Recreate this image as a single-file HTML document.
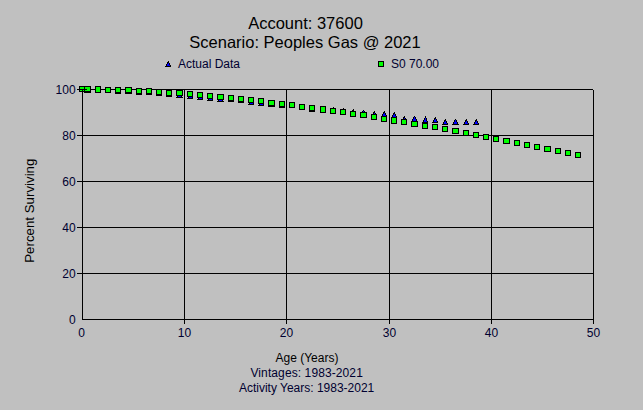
<!DOCTYPE html>
<html><head><meta charset="utf-8"><title>chart</title>
<style>
html,body{margin:0;padding:0;background:#c0c0c0;}
body{width:643px;height:410px;overflow:hidden;}
svg{display:block;}
text{font-family:"Liberation Sans",sans-serif;}
</style></head><body>
<svg width="643" height="410" viewBox="0 0 643 410">
<rect width="643" height="410" fill="#c0c0c0"/>
<g shape-rendering="crispEdges" fill="#000">
<rect x="82" y="89" width="1" height="231"/>
<rect x="184" y="89" width="1" height="235"/>
<rect x="286" y="89" width="1" height="235"/>
<rect x="389" y="89" width="1" height="235"/>
<rect x="491" y="89" width="1" height="235"/>
<rect x="593" y="90" width="1" height="234"/>
<rect x="77" y="89" width="516" height="1"/>
<rect x="77" y="135" width="517" height="1"/>
<rect x="77" y="181" width="517" height="1"/>
<rect x="77" y="227" width="517" height="1"/>
<rect x="77" y="273" width="517" height="1"/>
<rect x="82" y="319" width="512" height="1"/>
</g>
<g shape-rendering="crispEdges">
<rect x="82" y="86" width="1" height="1" fill="#000"/><rect x="81" y="87" width="3" height="2" fill="#000"/><rect x="82" y="87" width="1" height="2" fill="#0000ff"/><rect x="80" y="89" width="5" height="2" fill="#000"/><rect x="81" y="89" width="3" height="2" fill="#0000ff"/><rect x="79" y="91" width="7" height="1" fill="#000"/>
<rect x="87" y="87" width="1" height="1" fill="#000"/><rect x="86" y="88" width="3" height="2" fill="#000"/><rect x="87" y="88" width="1" height="2" fill="#0000ff"/><rect x="85" y="90" width="5" height="2" fill="#000"/><rect x="86" y="90" width="3" height="2" fill="#0000ff"/><rect x="84" y="92" width="7" height="1" fill="#000"/>
<rect x="98" y="86" width="1" height="1" fill="#000"/><rect x="97" y="87" width="2" height="1" fill="#000"/><rect x="97" y="88" width="3" height="1" fill="#000"/><rect x="98" y="88" width="1" height="1" fill="#0000ff"/><rect x="96" y="89" width="4" height="1" fill="#000"/><rect x="97" y="89" width="2" height="1" fill="#0000ff"/><rect x="96" y="90" width="5" height="1" fill="#000"/><rect x="97" y="90" width="3" height="1" fill="#0000ff"/><rect x="95" y="91" width="6" height="1" fill="#000"/>
<rect x="108" y="87" width="1" height="1" fill="#000"/><rect x="107" y="88" width="2" height="1" fill="#000"/><rect x="107" y="89" width="3" height="1" fill="#000"/><rect x="108" y="89" width="1" height="1" fill="#0000ff"/><rect x="106" y="90" width="4" height="1" fill="#000"/><rect x="107" y="90" width="2" height="1" fill="#0000ff"/><rect x="106" y="91" width="5" height="1" fill="#000"/><rect x="107" y="91" width="3" height="1" fill="#0000ff"/><rect x="105" y="92" width="6" height="1" fill="#000"/>
<rect x="118" y="88" width="1" height="1" fill="#000"/><rect x="117" y="89" width="2" height="1" fill="#000"/><rect x="117" y="90" width="3" height="1" fill="#000"/><rect x="118" y="90" width="1" height="1" fill="#0000ff"/><rect x="116" y="91" width="4" height="1" fill="#000"/><rect x="117" y="91" width="2" height="1" fill="#0000ff"/><rect x="116" y="92" width="5" height="1" fill="#000"/><rect x="117" y="92" width="3" height="1" fill="#0000ff"/><rect x="115" y="93" width="6" height="1" fill="#000"/>
<rect x="128" y="88" width="1" height="1" fill="#000"/><rect x="127" y="89" width="3" height="2" fill="#000"/><rect x="128" y="89" width="1" height="2" fill="#0000ff"/><rect x="126" y="91" width="5" height="2" fill="#000"/><rect x="127" y="91" width="3" height="2" fill="#0000ff"/><rect x="125" y="93" width="7" height="1" fill="#000"/>
<rect x="139" y="89" width="1" height="1" fill="#000"/><rect x="138" y="90" width="2" height="1" fill="#000"/><rect x="138" y="91" width="3" height="1" fill="#000"/><rect x="139" y="91" width="1" height="1" fill="#0000ff"/><rect x="137" y="92" width="4" height="1" fill="#000"/><rect x="138" y="92" width="2" height="1" fill="#0000ff"/><rect x="137" y="93" width="5" height="1" fill="#000"/><rect x="138" y="93" width="3" height="1" fill="#0000ff"/><rect x="136" y="94" width="6" height="1" fill="#000"/>
<rect x="149" y="89" width="1" height="1" fill="#000"/><rect x="148" y="90" width="2" height="1" fill="#000"/><rect x="148" y="91" width="3" height="1" fill="#000"/><rect x="149" y="91" width="1" height="1" fill="#0000ff"/><rect x="147" y="92" width="4" height="1" fill="#000"/><rect x="148" y="92" width="2" height="1" fill="#0000ff"/><rect x="147" y="93" width="5" height="1" fill="#000"/><rect x="148" y="93" width="3" height="1" fill="#0000ff"/><rect x="146" y="94" width="6" height="1" fill="#000"/>
<rect x="159" y="90" width="1" height="1" fill="#000"/><rect x="158" y="91" width="2" height="1" fill="#000"/><rect x="158" y="92" width="3" height="1" fill="#000"/><rect x="159" y="92" width="1" height="1" fill="#0000ff"/><rect x="157" y="93" width="4" height="1" fill="#000"/><rect x="158" y="93" width="2" height="1" fill="#0000ff"/><rect x="157" y="94" width="5" height="1" fill="#000"/><rect x="158" y="94" width="3" height="1" fill="#0000ff"/><rect x="156" y="95" width="6" height="1" fill="#000"/>
<rect x="169" y="91" width="1" height="1" fill="#000"/><rect x="168" y="92" width="2" height="1" fill="#000"/><rect x="168" y="93" width="3" height="1" fill="#000"/><rect x="169" y="93" width="1" height="1" fill="#0000ff"/><rect x="167" y="94" width="4" height="1" fill="#000"/><rect x="168" y="94" width="2" height="1" fill="#0000ff"/><rect x="167" y="95" width="5" height="1" fill="#000"/><rect x="168" y="95" width="3" height="1" fill="#0000ff"/><rect x="166" y="96" width="6" height="1" fill="#000"/>
<rect x="179" y="92" width="1" height="1" fill="#000"/><rect x="178" y="93" width="3" height="2" fill="#000"/><rect x="179" y="93" width="1" height="2" fill="#0000ff"/><rect x="177" y="95" width="5" height="2" fill="#000"/><rect x="178" y="95" width="3" height="2" fill="#0000ff"/><rect x="176" y="97" width="7" height="1" fill="#000"/>
<rect x="190" y="93" width="1" height="1" fill="#000"/><rect x="189" y="94" width="2" height="1" fill="#000"/><rect x="189" y="95" width="3" height="1" fill="#000"/><rect x="190" y="95" width="1" height="1" fill="#0000ff"/><rect x="188" y="96" width="4" height="1" fill="#000"/><rect x="189" y="96" width="2" height="1" fill="#0000ff"/><rect x="188" y="97" width="5" height="1" fill="#000"/><rect x="189" y="97" width="3" height="1" fill="#0000ff"/><rect x="187" y="98" width="6" height="1" fill="#000"/>
<rect x="200" y="94" width="1" height="1" fill="#000"/><rect x="199" y="95" width="2" height="1" fill="#000"/><rect x="199" y="96" width="3" height="1" fill="#000"/><rect x="200" y="96" width="1" height="1" fill="#0000ff"/><rect x="198" y="97" width="4" height="1" fill="#000"/><rect x="199" y="97" width="2" height="1" fill="#0000ff"/><rect x="198" y="98" width="5" height="1" fill="#000"/><rect x="199" y="98" width="3" height="1" fill="#0000ff"/><rect x="197" y="99" width="6" height="1" fill="#000"/>
<rect x="210" y="95" width="1" height="1" fill="#000"/><rect x="209" y="96" width="2" height="1" fill="#000"/><rect x="209" y="97" width="3" height="1" fill="#000"/><rect x="210" y="97" width="1" height="1" fill="#0000ff"/><rect x="208" y="98" width="4" height="1" fill="#000"/><rect x="209" y="98" width="2" height="1" fill="#0000ff"/><rect x="208" y="99" width="5" height="1" fill="#000"/><rect x="209" y="99" width="3" height="1" fill="#0000ff"/><rect x="207" y="100" width="6" height="1" fill="#000"/>
<rect x="220" y="96" width="1" height="1" fill="#000"/><rect x="219" y="97" width="3" height="2" fill="#000"/><rect x="220" y="97" width="1" height="2" fill="#0000ff"/><rect x="218" y="99" width="5" height="2" fill="#000"/><rect x="219" y="99" width="3" height="2" fill="#0000ff"/><rect x="217" y="101" width="7" height="1" fill="#000"/>
<rect x="231" y="96" width="1" height="1" fill="#000"/><rect x="230" y="97" width="2" height="1" fill="#000"/><rect x="230" y="98" width="3" height="1" fill="#000"/><rect x="231" y="98" width="1" height="1" fill="#0000ff"/><rect x="229" y="99" width="4" height="1" fill="#000"/><rect x="230" y="99" width="2" height="1" fill="#0000ff"/><rect x="229" y="100" width="5" height="1" fill="#000"/><rect x="230" y="100" width="3" height="1" fill="#0000ff"/><rect x="228" y="101" width="6" height="1" fill="#000"/>
<rect x="241" y="97" width="1" height="1" fill="#000"/><rect x="240" y="98" width="2" height="1" fill="#000"/><rect x="240" y="99" width="3" height="1" fill="#000"/><rect x="241" y="99" width="1" height="1" fill="#0000ff"/><rect x="239" y="100" width="4" height="1" fill="#000"/><rect x="240" y="100" width="2" height="1" fill="#0000ff"/><rect x="239" y="101" width="5" height="1" fill="#000"/><rect x="240" y="101" width="3" height="1" fill="#0000ff"/><rect x="238" y="102" width="6" height="1" fill="#000"/>
<rect x="251" y="99" width="1" height="1" fill="#000"/><rect x="250" y="100" width="2" height="1" fill="#000"/><rect x="250" y="101" width="3" height="1" fill="#000"/><rect x="251" y="101" width="1" height="1" fill="#0000ff"/><rect x="249" y="102" width="4" height="1" fill="#000"/><rect x="250" y="102" width="2" height="1" fill="#0000ff"/><rect x="249" y="103" width="5" height="1" fill="#000"/><rect x="250" y="103" width="3" height="1" fill="#0000ff"/><rect x="248" y="104" width="6" height="1" fill="#000"/>
<rect x="261" y="100" width="1" height="1" fill="#000"/><rect x="260" y="101" width="2" height="1" fill="#000"/><rect x="260" y="102" width="3" height="1" fill="#000"/><rect x="261" y="102" width="1" height="1" fill="#0000ff"/><rect x="259" y="103" width="4" height="1" fill="#000"/><rect x="260" y="103" width="2" height="1" fill="#0000ff"/><rect x="259" y="104" width="5" height="1" fill="#000"/><rect x="260" y="104" width="3" height="1" fill="#0000ff"/><rect x="258" y="105" width="6" height="1" fill="#000"/>
<rect x="271" y="101" width="1" height="1" fill="#000"/><rect x="270" y="102" width="3" height="2" fill="#000"/><rect x="271" y="102" width="1" height="2" fill="#0000ff"/><rect x="269" y="104" width="5" height="2" fill="#000"/><rect x="270" y="104" width="3" height="2" fill="#0000ff"/><rect x="268" y="106" width="7" height="1" fill="#000"/>
<rect x="282" y="102" width="1" height="1" fill="#000"/><rect x="281" y="103" width="2" height="1" fill="#000"/><rect x="281" y="104" width="3" height="1" fill="#000"/><rect x="282" y="104" width="1" height="1" fill="#0000ff"/><rect x="280" y="105" width="4" height="1" fill="#000"/><rect x="281" y="105" width="2" height="1" fill="#0000ff"/><rect x="280" y="106" width="5" height="1" fill="#000"/><rect x="281" y="106" width="3" height="1" fill="#0000ff"/><rect x="279" y="107" width="6" height="1" fill="#000"/>
<rect x="292" y="102" width="1" height="1" fill="#000"/><rect x="291" y="103" width="2" height="1" fill="#000"/><rect x="291" y="104" width="3" height="1" fill="#000"/><rect x="292" y="104" width="1" height="1" fill="#0000ff"/><rect x="290" y="105" width="4" height="1" fill="#000"/><rect x="291" y="105" width="2" height="1" fill="#0000ff"/><rect x="290" y="106" width="5" height="1" fill="#000"/><rect x="291" y="106" width="3" height="1" fill="#0000ff"/><rect x="289" y="107" width="6" height="1" fill="#000"/>
<rect x="302" y="104" width="1" height="1" fill="#000"/><rect x="301" y="105" width="2" height="1" fill="#000"/><rect x="301" y="106" width="3" height="1" fill="#000"/><rect x="302" y="106" width="1" height="1" fill="#0000ff"/><rect x="300" y="107" width="4" height="1" fill="#000"/><rect x="301" y="107" width="2" height="1" fill="#0000ff"/><rect x="300" y="108" width="5" height="1" fill="#000"/><rect x="301" y="108" width="3" height="1" fill="#0000ff"/><rect x="299" y="109" width="6" height="1" fill="#000"/>
<rect x="312" y="106" width="1" height="1" fill="#000"/><rect x="311" y="107" width="2" height="1" fill="#000"/><rect x="311" y="108" width="3" height="1" fill="#000"/><rect x="312" y="108" width="1" height="1" fill="#0000ff"/><rect x="310" y="109" width="4" height="1" fill="#000"/><rect x="311" y="109" width="2" height="1" fill="#0000ff"/><rect x="310" y="110" width="5" height="1" fill="#000"/><rect x="311" y="110" width="3" height="1" fill="#0000ff"/><rect x="309" y="111" width="6" height="1" fill="#000"/>
<rect x="323" y="106" width="1" height="1" fill="#000"/><rect x="322" y="107" width="2" height="1" fill="#000"/><rect x="322" y="108" width="3" height="1" fill="#000"/><rect x="323" y="108" width="1" height="1" fill="#0000ff"/><rect x="321" y="109" width="4" height="1" fill="#000"/><rect x="322" y="109" width="2" height="1" fill="#0000ff"/><rect x="321" y="110" width="5" height="1" fill="#000"/><rect x="322" y="110" width="3" height="1" fill="#0000ff"/><rect x="320" y="111" width="6" height="1" fill="#000"/>
<rect x="333" y="107" width="1" height="1" fill="#000"/><rect x="332" y="108" width="2" height="1" fill="#000"/><rect x="332" y="109" width="3" height="1" fill="#000"/><rect x="333" y="109" width="1" height="1" fill="#0000ff"/><rect x="331" y="110" width="4" height="1" fill="#000"/><rect x="332" y="110" width="2" height="1" fill="#0000ff"/><rect x="331" y="111" width="5" height="1" fill="#000"/><rect x="332" y="111" width="3" height="1" fill="#0000ff"/><rect x="330" y="112" width="6" height="1" fill="#000"/>
<rect x="343" y="108" width="1" height="1" fill="#000"/><rect x="342" y="109" width="2" height="1" fill="#000"/><rect x="342" y="110" width="3" height="1" fill="#000"/><rect x="343" y="110" width="1" height="1" fill="#0000ff"/><rect x="341" y="111" width="4" height="1" fill="#000"/><rect x="342" y="111" width="2" height="1" fill="#0000ff"/><rect x="341" y="112" width="5" height="1" fill="#000"/><rect x="342" y="112" width="3" height="1" fill="#0000ff"/><rect x="340" y="113" width="6" height="1" fill="#000"/>
<rect x="353" y="109" width="1" height="1" fill="#000"/><rect x="352" y="110" width="2" height="1" fill="#000"/><rect x="352" y="111" width="3" height="1" fill="#000"/><rect x="353" y="111" width="1" height="1" fill="#0000ff"/><rect x="351" y="112" width="4" height="1" fill="#000"/><rect x="352" y="112" width="2" height="1" fill="#0000ff"/><rect x="351" y="113" width="5" height="1" fill="#000"/><rect x="352" y="113" width="3" height="1" fill="#0000ff"/><rect x="350" y="114" width="6" height="1" fill="#000"/>
<rect x="363" y="110" width="1" height="1" fill="#000"/><rect x="362" y="111" width="3" height="2" fill="#000"/><rect x="363" y="111" width="1" height="2" fill="#0000ff"/><rect x="361" y="113" width="5" height="2" fill="#000"/><rect x="362" y="113" width="3" height="2" fill="#0000ff"/><rect x="360" y="115" width="7" height="1" fill="#000"/>
<rect x="374" y="111" width="1" height="1" fill="#000"/><rect x="373" y="112" width="2" height="1" fill="#000"/><rect x="373" y="113" width="3" height="1" fill="#000"/><rect x="374" y="113" width="1" height="1" fill="#0000ff"/><rect x="372" y="114" width="4" height="1" fill="#000"/><rect x="373" y="114" width="2" height="1" fill="#0000ff"/><rect x="372" y="115" width="5" height="1" fill="#000"/><rect x="373" y="115" width="3" height="1" fill="#0000ff"/><rect x="371" y="116" width="6" height="1" fill="#000"/>
<rect x="384" y="111" width="1" height="1" fill="#000"/><rect x="383" y="112" width="2" height="1" fill="#000"/><rect x="383" y="113" width="3" height="1" fill="#000"/><rect x="384" y="113" width="1" height="1" fill="#0000ff"/><rect x="382" y="114" width="4" height="1" fill="#000"/><rect x="383" y="114" width="2" height="1" fill="#0000ff"/><rect x="382" y="115" width="5" height="1" fill="#000"/><rect x="383" y="115" width="3" height="1" fill="#0000ff"/><rect x="381" y="116" width="6" height="1" fill="#000"/>
<rect x="394" y="112" width="1" height="1" fill="#000"/><rect x="393" y="113" width="2" height="1" fill="#000"/><rect x="393" y="114" width="3" height="1" fill="#000"/><rect x="394" y="114" width="1" height="1" fill="#0000ff"/><rect x="392" y="115" width="4" height="1" fill="#000"/><rect x="393" y="115" width="2" height="1" fill="#0000ff"/><rect x="392" y="116" width="5" height="1" fill="#000"/><rect x="393" y="116" width="3" height="1" fill="#0000ff"/><rect x="391" y="117" width="6" height="1" fill="#000"/>
<rect x="404" y="116" width="1" height="1" fill="#000"/><rect x="403" y="117" width="2" height="1" fill="#000"/><rect x="403" y="118" width="3" height="1" fill="#000"/><rect x="404" y="118" width="1" height="1" fill="#0000ff"/><rect x="402" y="119" width="4" height="1" fill="#000"/><rect x="403" y="119" width="2" height="1" fill="#0000ff"/><rect x="402" y="120" width="5" height="1" fill="#000"/><rect x="403" y="120" width="3" height="1" fill="#0000ff"/><rect x="401" y="121" width="6" height="1" fill="#000"/>
<rect x="414" y="116" width="1" height="1" fill="#000"/><rect x="413" y="117" width="3" height="2" fill="#000"/><rect x="414" y="117" width="1" height="2" fill="#0000ff"/><rect x="412" y="119" width="5" height="2" fill="#000"/><rect x="413" y="119" width="3" height="2" fill="#0000ff"/><rect x="411" y="121" width="7" height="1" fill="#000"/>
<rect x="425" y="116" width="1" height="2" fill="#000"/><rect x="424" y="118" width="3" height="2" fill="#000"/><rect x="425" y="118" width="1" height="2" fill="#0000ff"/><rect x="423" y="120" width="4" height="1" fill="#000"/><rect x="424" y="120" width="2" height="1" fill="#0000ff"/><rect x="423" y="121" width="5" height="1" fill="#000"/><rect x="424" y="121" width="3" height="1" fill="#0000ff"/><rect x="422" y="122" width="6" height="1" fill="#000"/>
<rect x="435" y="117" width="1" height="1" fill="#000"/><rect x="434" y="118" width="2" height="1" fill="#000"/><rect x="434" y="119" width="3" height="1" fill="#000"/><rect x="435" y="119" width="1" height="1" fill="#0000ff"/><rect x="433" y="120" width="4" height="1" fill="#000"/><rect x="434" y="120" width="2" height="1" fill="#0000ff"/><rect x="433" y="121" width="5" height="1" fill="#000"/><rect x="434" y="121" width="3" height="1" fill="#0000ff"/><rect x="432" y="122" width="6" height="1" fill="#000"/>
<rect x="445" y="119" width="1" height="1" fill="#000"/><rect x="444" y="120" width="2" height="1" fill="#000"/><rect x="444" y="121" width="3" height="1" fill="#000"/><rect x="445" y="121" width="1" height="1" fill="#0000ff"/><rect x="443" y="122" width="4" height="1" fill="#000"/><rect x="444" y="122" width="2" height="1" fill="#0000ff"/><rect x="443" y="123" width="5" height="1" fill="#000"/><rect x="444" y="123" width="3" height="1" fill="#0000ff"/><rect x="442" y="124" width="6" height="1" fill="#000"/>
<rect x="455" y="119" width="1" height="1" fill="#000"/><rect x="454" y="120" width="3" height="2" fill="#000"/><rect x="455" y="120" width="1" height="2" fill="#0000ff"/><rect x="453" y="122" width="5" height="2" fill="#000"/><rect x="454" y="122" width="3" height="2" fill="#0000ff"/><rect x="452" y="124" width="7" height="1" fill="#000"/>
<rect x="466" y="119" width="1" height="1" fill="#000"/><rect x="465" y="120" width="2" height="1" fill="#000"/><rect x="465" y="121" width="3" height="1" fill="#000"/><rect x="466" y="121" width="1" height="1" fill="#0000ff"/><rect x="464" y="122" width="4" height="1" fill="#000"/><rect x="465" y="122" width="2" height="1" fill="#0000ff"/><rect x="464" y="123" width="5" height="1" fill="#000"/><rect x="465" y="123" width="3" height="1" fill="#0000ff"/><rect x="463" y="124" width="6" height="1" fill="#000"/>
<rect x="476" y="119" width="1" height="1" fill="#000"/><rect x="475" y="120" width="2" height="1" fill="#000"/><rect x="475" y="121" width="3" height="1" fill="#000"/><rect x="476" y="121" width="1" height="1" fill="#0000ff"/><rect x="474" y="122" width="4" height="1" fill="#000"/><rect x="475" y="122" width="2" height="1" fill="#0000ff"/><rect x="474" y="123" width="5" height="1" fill="#000"/><rect x="475" y="123" width="3" height="1" fill="#0000ff"/><rect x="473" y="124" width="6" height="1" fill="#000"/>
<rect x="79" y="86" width="7" height="6" fill="#000"/><rect x="80" y="87" width="5" height="4" fill="#00ff00"/>
<rect x="84" y="86" width="7" height="6" fill="#000"/><rect x="85" y="87" width="5" height="4" fill="#00ff00"/>
<rect x="95" y="86" width="6" height="7" fill="#000"/><rect x="96" y="87" width="4" height="5" fill="#00ff00"/>
<rect x="105" y="87" width="6" height="6" fill="#000"/><rect x="106" y="88" width="4" height="4" fill="#00ff00"/>
<rect x="115" y="87" width="6" height="6" fill="#000"/><rect x="116" y="88" width="4" height="4" fill="#00ff00"/>
<rect x="125" y="87" width="7" height="6" fill="#000"/><rect x="126" y="88" width="5" height="4" fill="#00ff00"/>
<rect x="136" y="88" width="6" height="6" fill="#000"/><rect x="137" y="89" width="4" height="4" fill="#00ff00"/>
<rect x="146" y="88" width="6" height="6" fill="#000"/><rect x="147" y="89" width="4" height="4" fill="#00ff00"/>
<rect x="156" y="89" width="6" height="6" fill="#000"/><rect x="157" y="90" width="4" height="4" fill="#00ff00"/>
<rect x="166" y="90" width="6" height="6" fill="#000"/><rect x="167" y="91" width="4" height="4" fill="#00ff00"/>
<rect x="176" y="90" width="7" height="6" fill="#000"/><rect x="177" y="91" width="5" height="4" fill="#00ff00"/>
<rect x="187" y="91" width="6" height="6" fill="#000"/><rect x="188" y="92" width="4" height="4" fill="#00ff00"/>
<rect x="197" y="92" width="6" height="6" fill="#000"/><rect x="198" y="93" width="4" height="4" fill="#00ff00"/>
<rect x="207" y="93" width="6" height="6" fill="#000"/><rect x="208" y="94" width="4" height="4" fill="#00ff00"/>
<rect x="217" y="94" width="7" height="6" fill="#000"/><rect x="218" y="95" width="5" height="4" fill="#00ff00"/>
<rect x="228" y="95" width="6" height="6" fill="#000"/><rect x="229" y="96" width="4" height="4" fill="#00ff00"/>
<rect x="238" y="96" width="6" height="6" fill="#000"/><rect x="239" y="97" width="4" height="4" fill="#00ff00"/>
<rect x="248" y="97" width="6" height="6" fill="#000"/><rect x="249" y="98" width="4" height="4" fill="#00ff00"/>
<rect x="258" y="98" width="6" height="6" fill="#000"/><rect x="259" y="99" width="4" height="4" fill="#00ff00"/>
<rect x="268" y="100" width="7" height="6" fill="#000"/><rect x="269" y="101" width="5" height="4" fill="#00ff00"/>
<rect x="279" y="101" width="6" height="6" fill="#000"/><rect x="280" y="102" width="4" height="4" fill="#00ff00"/>
<rect x="289" y="102" width="6" height="6" fill="#000"/><rect x="290" y="103" width="4" height="4" fill="#00ff00"/>
<rect x="299" y="104" width="6" height="6" fill="#000"/><rect x="300" y="105" width="4" height="4" fill="#00ff00"/>
<rect x="309" y="105" width="6" height="6" fill="#000"/><rect x="310" y="106" width="4" height="4" fill="#00ff00"/>
<rect x="320" y="106" width="6" height="7" fill="#000"/><rect x="321" y="107" width="4" height="5" fill="#00ff00"/>
<rect x="330" y="108" width="6" height="6" fill="#000"/><rect x="331" y="109" width="4" height="4" fill="#00ff00"/>
<rect x="340" y="109" width="6" height="6" fill="#000"/><rect x="341" y="110" width="4" height="4" fill="#00ff00"/>
<rect x="350" y="111" width="6" height="6" fill="#000"/><rect x="351" y="112" width="4" height="4" fill="#00ff00"/>
<rect x="360" y="112" width="7" height="6" fill="#000"/><rect x="361" y="113" width="5" height="4" fill="#00ff00"/>
<rect x="371" y="114" width="6" height="6" fill="#000"/><rect x="372" y="115" width="4" height="4" fill="#00ff00"/>
<rect x="381" y="116" width="6" height="6" fill="#000"/><rect x="382" y="117" width="4" height="4" fill="#00ff00"/>
<rect x="391" y="117" width="6" height="7" fill="#000"/><rect x="392" y="118" width="4" height="5" fill="#00ff00"/>
<rect x="401" y="119" width="6" height="6" fill="#000"/><rect x="402" y="120" width="4" height="4" fill="#00ff00"/>
<rect x="411" y="121" width="7" height="6" fill="#000"/><rect x="412" y="122" width="5" height="4" fill="#00ff00"/>
<rect x="422" y="123" width="6" height="6" fill="#000"/><rect x="423" y="124" width="4" height="4" fill="#00ff00"/>
<rect x="432" y="124" width="6" height="6" fill="#000"/><rect x="433" y="125" width="4" height="4" fill="#00ff00"/>
<rect x="442" y="126" width="6" height="6" fill="#000"/><rect x="443" y="127" width="4" height="4" fill="#00ff00"/>
<rect x="452" y="128" width="7" height="6" fill="#000"/><rect x="453" y="129" width="5" height="4" fill="#00ff00"/>
<rect x="463" y="130" width="6" height="6" fill="#000"/><rect x="464" y="131" width="4" height="4" fill="#00ff00"/>
<rect x="473" y="132" width="6" height="6" fill="#000"/><rect x="474" y="133" width="4" height="4" fill="#00ff00"/>
<rect x="483" y="134" width="6" height="6" fill="#000"/><rect x="484" y="135" width="4" height="4" fill="#00ff00"/>
<rect x="493" y="136" width="6" height="6" fill="#000"/><rect x="494" y="137" width="4" height="4" fill="#00ff00"/>
<rect x="503" y="138" width="7" height="6" fill="#000"/><rect x="504" y="139" width="5" height="4" fill="#00ff00"/>
<rect x="514" y="140" width="6" height="6" fill="#000"/><rect x="515" y="141" width="4" height="4" fill="#00ff00"/>
<rect x="524" y="142" width="6" height="6" fill="#000"/><rect x="525" y="143" width="4" height="4" fill="#00ff00"/>
<rect x="534" y="144" width="6" height="6" fill="#000"/><rect x="535" y="145" width="4" height="4" fill="#00ff00"/>
<rect x="544" y="146" width="7" height="6" fill="#000"/><rect x="545" y="147" width="5" height="4" fill="#00ff00"/>
<rect x="555" y="148" width="6" height="6" fill="#000"/><rect x="556" y="149" width="4" height="4" fill="#00ff00"/>
<rect x="565" y="150" width="6" height="6" fill="#000"/><rect x="566" y="151" width="4" height="4" fill="#00ff00"/>
<rect x="575" y="152" width="6" height="6" fill="#000"/><rect x="576" y="153" width="4" height="4" fill="#00ff00"/>
<rect x="77" y="89" width="10" height="1" fill="#000"/>
<rect x="82" y="89" width="1" height="6" fill="#000"/>
<rect x="168" y="61" width="1" height="1" fill="#000"/><rect x="167" y="62" width="2" height="1" fill="#000"/><rect x="167" y="63" width="3" height="1" fill="#000"/><rect x="168" y="63" width="1" height="1" fill="#0000ff"/><rect x="166" y="64" width="4" height="1" fill="#000"/><rect x="167" y="64" width="2" height="1" fill="#0000ff"/><rect x="166" y="65" width="5" height="1" fill="#000"/><rect x="167" y="65" width="3" height="1" fill="#0000ff"/><rect x="165" y="66" width="6" height="1" fill="#000"/>
<rect x="378" y="61" width="6" height="6" fill="#000"/><rect x="379" y="62" width="4" height="4" fill="#00ff00"/>
</g>
<g font-size="16.5px" fill="#000" text-anchor="middle">
<text x="305.5" y="28.5">Account: 37600</text>
<text x="305" y="47.5">Scenario: Peoples Gas @ 2021</text>
</g>
<g font-size="12px" fill="#000030">
<text x="178" y="68">Actual Data</text>
<text x="391" y="68">S0 70.00</text>
</g>
<g font-size="12px" fill="#000030" text-anchor="end">
<text x="75.6" y="93.5">100</text>
<text x="75.6" y="139.5">80</text>
<text x="75.6" y="185.5">60</text>
<text x="75.6" y="231.5">40</text>
<text x="75.6" y="277.5">20</text>
<text x="75.6" y="323.5">0</text>
</g>
<g font-size="12px" fill="#000030" text-anchor="middle">
<text x="81.5" y="337">0</text>
<text x="184.5" y="337">10</text>
<text x="286.5" y="337">20</text>
<text x="389.5" y="337">30</text>
<text x="491.5" y="337">40</text>
<text x="593.5" y="337">50</text>
</g>
<g font-size="12px" text-anchor="middle">
<text x="307" y="362" fill="#000">Age (Years)</text>
<text x="306.7" y="377" fill="#000030" letter-spacing="0.1">Vintages: 1983-2021</text>
<text x="306.6" y="392" fill="#000030">Activity Years: 1983-2021</text>
</g>
<text font-size="13.3px" fill="#000" text-anchor="middle" transform="translate(33.5,210.7) rotate(-90)">Percent Surviving</text>
</svg>
</body></html>
